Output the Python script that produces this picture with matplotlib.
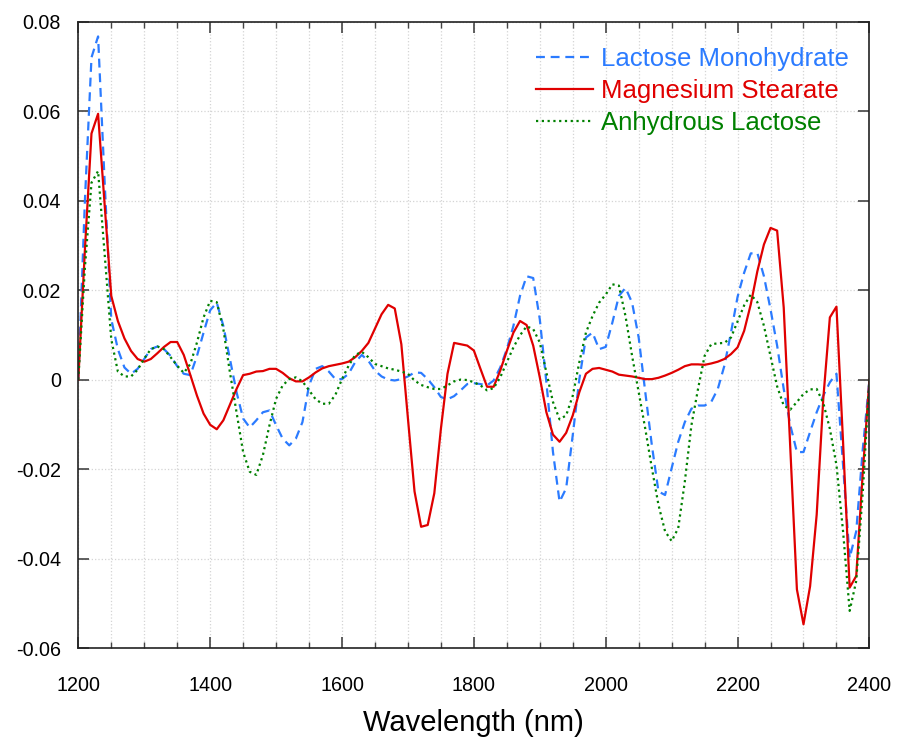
import numpy as np
import matplotlib
matplotlib.use('Agg')
import matplotlib.pyplot as plt
from matplotlib.ticker import MultipleLocator, FuncFormatter

plt.rcParams['font.family'] = ['Liberation Sans', 'DejaVu Sans']
plt.rcParams['axes.unicode_minus'] = False

# wavelength grid (nm), 10 nm steps
wavelength = np.arange(1200, 2401, 10)

lactose_mono = [
    0.0, 0.040, 0.072, 0.0767, 0.044, 0.0135, 0.0068, 0.0027, 0.0013, 0.0024,
    0.0046, 0.0068, 0.0074, 0.0068, 0.0053, 0.0030, 0.0013, 0.0010, 0.0053, 0.0105,
    0.0155, 0.0172, 0.0120, 0.0046, -0.0028, -0.0087, -0.0107, -0.0091, -0.0073, -0.0069,
    -0.0102, -0.0132, -0.0147, -0.0132, -0.0095, -0.0013, 0.0024, 0.0030, 0.0018, 0.0001,
    0.0001, 0.0013, 0.0039, 0.0055, 0.0042, 0.0020, 0.0007, 0.0, -0.0002, 0.0001,
    0.0007, 0.0016, 0.0015, 0.0001, -0.0017, -0.0039, -0.0044, -0.0037, -0.0024, -0.0010,
    -0.0008, -0.0010, -0.0013, -0.0002, 0.0027, 0.0068, 0.0120, 0.0187, 0.0231, 0.0227,
    0.0135, -0.0006, -0.0162, -0.0273, -0.0243, -0.0124, 0.0001, 0.0094, 0.0105, 0.0068,
    0.0073, 0.0127, 0.0187, 0.0205, 0.0172, 0.0094, -0.0028, -0.0147, -0.0250, -0.0258,
    -0.0198, -0.0139, -0.0095, -0.0065, -0.0058, -0.0058, -0.0050, -0.0021, 0.0031, 0.0105,
    0.0185, 0.0239, 0.0282, 0.0283, 0.0231, 0.0157, 0.0076, -0.0021, -0.0102, -0.0162,
    -0.0162, -0.0117, -0.0073, -0.0036, -0.0006, 0.0013, -0.0191, -0.0399, -0.0339, -0.0154,
    0.0,
]

mg_stearate = [
    0.0, 0.029, 0.055, 0.0594, 0.039, 0.0187, 0.0131, 0.0092, 0.0064, 0.0046,
    0.0040, 0.0046, 0.0059, 0.0073, 0.0084, 0.0084, 0.0055, 0.0010, -0.0036, -0.0076,
    -0.0101, -0.0111, -0.0091, -0.0056, -0.0021, 0.0010, 0.0013, 0.0018, 0.0019, 0.0024,
    0.0024, 0.0015, 0.0003, -0.0004, -0.0004, 0.0005, 0.0016, 0.0025, 0.0030, 0.0033,
    0.0036, 0.0040, 0.0050, 0.0064, 0.0082, 0.0114, 0.0146, 0.0167, 0.0159, 0.0079,
    -0.0087, -0.0250, -0.0329, -0.0325, -0.0254, -0.0110, 0.0013, 0.0082, 0.0079, 0.0076,
    0.0065, 0.0024, -0.0016, -0.0016, 0.0020, 0.0064, 0.0105, 0.0131, 0.0122, 0.0076,
    0.0005, -0.0073, -0.0123, -0.0139, -0.0119, -0.0080, -0.0028, 0.0013, 0.0024, 0.0026,
    0.0022, 0.0018, 0.0011, 0.0009, 0.0007, 0.0004, 0.0001, 0.0001, 0.0004, 0.0009,
    0.0015, 0.0022, 0.0030, 0.0034, 0.0034, 0.0033, 0.0036, 0.0040, 0.0046, 0.0057,
    0.0072, 0.0109, 0.0168, 0.0242, 0.0302, 0.0339, 0.0333, 0.0161, -0.0154, -0.0469,
    -0.0547, -0.0462, -0.0302, -0.0043, 0.0139, 0.0163, -0.0139, -0.0465, -0.0439, -0.0206,
    0.0,
]

anhydrous_lactose = [
    0.0, 0.025, 0.044, 0.0466, 0.028, 0.0090, 0.0018, 0.0007, 0.0007, 0.0022,
    0.0047, 0.0068, 0.0074, 0.0068, 0.0050, 0.0031, 0.0015, 0.0035, 0.0083, 0.0139,
    0.0176, 0.0173, 0.0113, 0.0016, -0.0073, -0.0162, -0.0206, -0.0213, -0.0169, -0.0102,
    -0.0043, -0.0013, 0.0001, 0.0005, -0.0004, -0.0024, -0.0044, -0.0054, -0.0054, -0.0034,
    0.0001, 0.0031, 0.0055, 0.0062, 0.0050, 0.0035, 0.0030, 0.0025, 0.0022, 0.0018,
    0.0013, -0.0002, -0.0012, -0.0017, -0.0021, -0.0021, -0.0013, -0.0004, 0.0, -0.0001,
    -0.0006, -0.0013, -0.0024, -0.0019, 0.0005, 0.0039, 0.0072, 0.0099, 0.0119, 0.0113,
    0.0083, 0.0016, -0.0050, -0.0089, -0.0080, -0.0036, 0.0039, 0.0105, 0.0142, 0.0172,
    0.0190, 0.0213, 0.0210, 0.0142, 0.0053, -0.0028, -0.0110, -0.0198, -0.0280, -0.0339,
    -0.0361, -0.0332, -0.0228, -0.0102, -0.0021, 0.0053, 0.0079, 0.0081, 0.0082, 0.0094,
    0.0130, 0.0166, 0.0190, 0.0173, 0.0120, 0.0052, -0.0015, -0.0058, -0.0067, -0.0050,
    -0.0032, -0.0022, -0.0021, -0.0052, -0.0110, -0.0191, -0.0339, -0.0517, -0.0450, -0.0250,
    0.0,
]

series_names = ['Lactose Monohydrate', 'Magnesium Stearate', 'Anhydrous Lactose']
colors = ['#2b7bff', '#e00000', '#008000']

fig = plt.figure(figsize=(8.99, 7.40), dpi=100)
ax = fig.add_axes([0.0871, 0.1243, 0.8800, 0.8464])

ax.plot(wavelength, lactose_mono, color=colors[0], linewidth=1.6,
        linestyle=(0, (4, 2.6)), label=series_names[0])
ax.plot(wavelength, mg_stearate, color=colors[1], linewidth=1.6,
        linestyle='-', label=series_names[1])
ax.plot(wavelength, anhydrous_lactose, color=colors[2], linewidth=1.6,
        linestyle=(0, (1, 1.6)), label=series_names[2])

ax.set_xlim(1200, 2400)
ax.set_ylim(-0.06, 0.08)

ax.xaxis.set_major_locator(MultipleLocator(200))
ax.xaxis.set_minor_locator(MultipleLocator(50))
ax.yaxis.set_major_locator(MultipleLocator(0.02))
ax.yaxis.set_major_formatter(FuncFormatter(lambda v, p: '0' if abs(v) < 1e-9 else f'{v:.2f}'))

ax.grid(True, which='both', axis='x', color='#d4d4d4', linestyle=':', linewidth=0.9)
ax.grid(True, which='major', axis='y', color='#d4d4d4', linestyle=':', linewidth=0.9)
ax.set_axisbelow(True)

ax.tick_params(which='major', direction='in', length=8, width=1.2, color='#444444',
               top=True, right=True, labelsize=14.2)
ax.tick_params(which='minor', direction='in', length=4, width=1.0, color='#444444',
               top=True, bottom=True)
ax.tick_params(axis='y', which='minor', left=False, right=False)
ax.tick_params(axis='x', pad=20)
ax.tick_params(axis='y', pad=12.5)

for sp in ax.spines.values():
    sp.set_color('#222222')
    sp.set_linewidth(1.2)

ax.set_xlabel('Wavelength (nm)', fontsize=21, labelpad=10)

leg = ax.legend(loc='upper right', bbox_to_anchor=(0.993, 0.984), frameon=False,
                fontsize=18.5, handlelength=2.2, handletextpad=0.3,
                labelspacing=0.30, borderaxespad=0.2)
for txt, c in zip(leg.get_texts(), colors):
    txt.set_color(c)

plt.savefig('out.png', dpi=100)
